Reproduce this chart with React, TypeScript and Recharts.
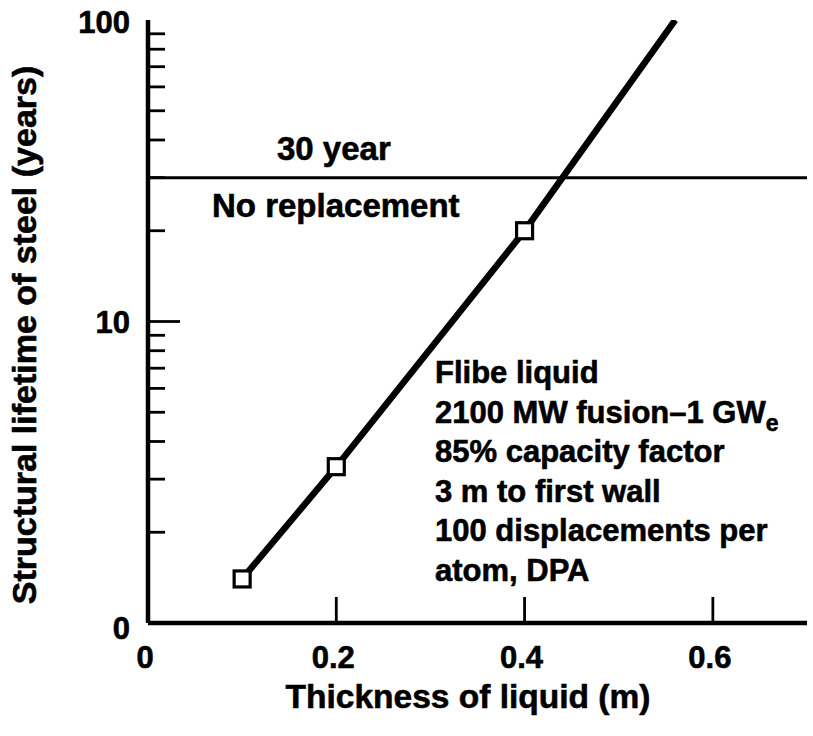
import React from 'react';
import { ComposedChart, Line, Scatter, XAxis, YAxis, ReferenceLine } from 'recharts';

// ---- data ----
const thicknessM = [0.1, 0.2, 0.4];
const lifetimeYears = [1.4, 3.3, 20];
const curveThicknessM = [0.1, 0.2, 0.4, 0.56];
const curveLifetimeYears = [1.4, 3.3, 20, 100];
const limitYears = 30;
const xTicks = [0, 0.2, 0.4, 0.6];
const xTickLabels = ['0', '0.2', '0.4', '0.6'];
const yTicks = [1, 2, 3, 4, 5, 6, 7, 8, 9, 10, 20, 30, 40, 50, 60, 70, 80, 90, 100];
const yMajorTicks = [1, 10, 100];
const yTickLabels = ['0', '10', '100'];
const noteLines = ['Flibe liquid', '2100 MW fusion\u20131 GW', '85% capacity factor', '3 m to first wall', '100 displacements per', 'atom, DPA'];
const noteSubscripts = ['', 'e', '', '', '', ''];
const xTitle = 'Thickness of liquid (m)';
const yTitle = 'Structural lifetime of steel (years)';
const limitAbove = '30 year';
const limitBelow = 'No replacement';

const FONT = '"Liberation Sans", Arial, Helvetica, sans-serif';
const TXT = { fontFamily: FONT, fontWeight: 'bold' as const, fill: '#000', stroke: '#000', strokeWidth: 0.6 };

const points = thicknessM.map((x, i) => ({ x, y: lifetimeYears[i] }));
const curve = curveThicknessM.map((x, i) => ({ x, y: curveLifetimeYears[i] }));

const YTick = (props: any) => {
  const { x, y, payload } = props;
  const v = payload.value;
  const mi = yMajorTicks.indexOf(v);
  const major = mi >= 0;
  const isEnd = v === 1 || v === 100;
  const dy = v === 1 ? 5 : v === 100 ? 2 : 0;
  return (
    <g>
      {!isEnd && (
        <line x1={x} x2={x + (major ? 32 : 17)} y1={y} y2={y} stroke="#000" strokeWidth={2.8} />
      )}
      {major && (
        <text x={x - 18} y={y + 11 + dy} textAnchor="end" fontSize={31} {...TXT}>
          {yTickLabels[mi]}
        </text>
      )}
    </g>
  );
};

const XTickBottom = (props: any) => {
  const { x, y, payload } = props;
  const i = xTicks.indexOf(payload.value);
  return (
    <g>
      {payload.value !== 0 && <line x1={x} x2={x} y1={y} y2={y - 26} stroke="#000" strokeWidth={2.8} />}
      <text x={x - 3} y={y + 45} textAnchor="middle" fontSize={31} {...TXT}>
        {xTickLabels[i]}
      </text>
    </g>
  );
};

const XTickTop = (props: any) => {
  const { x, y, payload } = props;
  if (payload.value === 0) return <g />;
  return <line x1={x} x2={x} y1={y} y2={y + 30} stroke="#000" strokeWidth={2.8} />;
};

const Square = (props: any) => {
  const { cx, cy } = props;
  return <rect x={cx - 8} y={cy - 8} width={16} height={16} fill="#fff" stroke="#000" strokeWidth={3.2} />;
};

export default function App() {
  return (
    <div style={{ position: 'absolute', left: 0, top: 0, width: 813, height: 736, background: '#fff' }}>
      <ComposedChart width={813} height={736} margin={{ top: 20, right: 6, bottom: 0, left: 0 }}>
        <XAxis
          xAxisId="b"
          dataKey="x"
          type="number"
          domain={[0, 0.7]}
          ticks={xTicks}
          interval={0}
          height={113}
          tickSize={0}
          tickMargin={0}
          axisLine={{ stroke: '#000', strokeWidth: 4.5 }}
          tickLine={false}
          tick={<XTickBottom />}
          allowDataOverflow
        />
        <XAxis
          xAxisId="t"
          orientation="top"
          dataKey="x"
          type="number"
          domain={[0, 0.7]}
          ticks={xTicks}
          interval={0}
          height={0}
          tickSize={0}
          tickMargin={0}
          axisLine={{ stroke: '#000', strokeWidth: 4 }}
          tickLine={false}
          tick={<XTickTop />}
          allowDataOverflow
        />
        <YAxis
          yAxisId="l"
          dataKey="y"
          type="number"
          scale="log"
          domain={[1, 100]}
          ticks={yTicks}
          interval={0}
          width={148}
          tickSize={0}
          tickMargin={0}
          axisLine={{ stroke: '#000', strokeWidth: 4.5 }}
          tickLine={false}
          tick={<YTick />}
          allowDataOverflow
        />
        <YAxis
          yAxisId="r"
          orientation="right"
          type="number"
          scale="log"
          domain={[1, 100]}
          width={0}
          tick={false}
          tickLine={false}
          axisLine={{ stroke: '#000', strokeWidth: 4 }}
          allowDataOverflow
        />
        <ReferenceLine xAxisId="b" yAxisId="l" y={limitYears} stroke="#000" strokeWidth={3} />
        <Line
          xAxisId="b"
          yAxisId="l"
          data={curve}
          dataKey="y"
          type="linear"
          stroke="#000"
          strokeWidth={6.5}
          dot={false}
          activeDot={false}
          isAnimationActive={false}
        />
        <Scatter
          xAxisId="b"
          yAxisId="l"
          data={points}
          dataKey="y"
          shape={<Square />}
          isAnimationActive={false}
        />
        <g>
          <text x={277} y={160} fontSize={33} {...TXT}>{limitAbove}</text>
          <text x={212} y={217} fontSize={33} {...TXT}>{limitBelow}</text>
          {noteLines.map((t, i) => (
            <text key={i} x={435} y={383 + i * 39.5} fontSize={31} {...TXT}>
              {t}
              {noteSubscripts[i] && (
                <tspan fontSize={23} dy={8}>{noteSubscripts[i]}</tspan>
              )}
            </text>
          ))}
          <text x={468} y={708} fontSize={33.5} textAnchor="middle" {...TXT}>{xTitle}</text>
          <text x={36} y={335} fontSize={34} textAnchor="middle" transform="rotate(-90, 36, 335)" {...TXT}>{yTitle}</text>
        </g>
      </ComposedChart>
    </div>
  );
}
